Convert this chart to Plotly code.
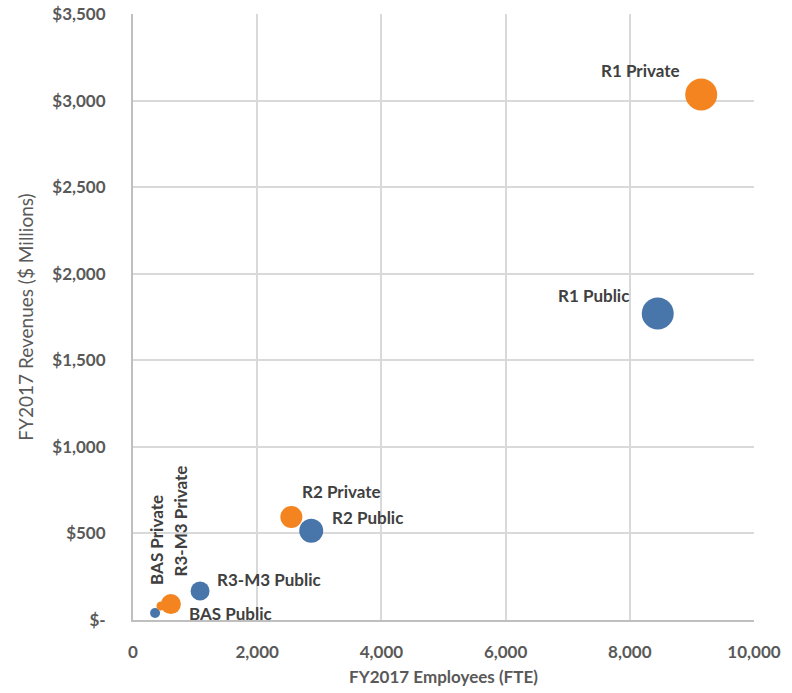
import plotly.graph_objects as go

# Segment data: employees (FTE), revenues ($M), bubble size
labels = ["R1 Private", "R1 Public", "R2 Private", "R2 Public",
          "R3-M3 Private", "R3-M3 Public", "BAS Private", "BAS Public"]
employees = [9150, 8450, 2550, 2870, 610, 1080, 450, 355]
revenues = [3035, 1770, 595, 515, 92, 167, 81, 40]
bubble_size = [32, 32, 22, 24, 20, 19, 9, 10]
sector = ["Private", "Public", "Private", "Public",
          "Private", "Public", "Private", "Public"]

x_ticks = [0, 2000, 4000, 6000, 8000, 10000]
x_tick_text = ["0", "2,000", "4,000", "6,000", "8,000", "10,000"]
y_ticks = [0, 500, 1000, 1500, 2000, 2500, 3000, 3500]
y_tick_text = ["$-", "$500", "$1,000", "$1,500", "$2,000", "$2,500", "$3,000", "$3,500"]

colors = {"Public": "#4876AA", "Private": "#F3841F"}
FONT = "Lato"

# label placement: (xanchor, yanchor, xshift, yshift, textangle)
label_pos = {
    "R1 Private": ("right", "middle", -19, 24, 0),
    "R1 Public": ("right", "middle", -27, 18, 0),
    "R2 Private": ("left", "middle", 9, 25, 0),
    "R2 Public": ("left", "middle", 19, 13, 0),
    "R3-M3 Public": ("left", "middle", 15, 12, 0),
    "BAS Public": ("left", "middle", 32, 0, 0),
    "BAS Private": ("center", "bottom", -4, 19, -90),
    "R3-M3 Private": ("center", "bottom", 10, 26, -90),
}

fig = go.Figure()

# draw larger bubbles first so the small ones stay visible
order = sorted(range(len(labels)), key=lambda i: -bubble_size[i])
fig.add_trace(go.Scatter(
    x=[employees[i] for i in order],
    y=[revenues[i] for i in order],
    mode="markers",
    marker=dict(size=[bubble_size[i] for i in order],
                color=[colors[sector[i]] for i in order],
                opacity=1, line=dict(width=0)),
    text=[labels[i] for i in order],
    hoverinfo="text",
    showlegend=False,
))

for i, lab in enumerate(labels):
    xa, ya, xs, ys, ang = label_pos[lab]
    fig.add_annotation(
        x=employees[i], y=revenues[i], text=lab, showarrow=False,
        xanchor=xa, yanchor=ya, xshift=xs, yshift=ys, textangle=ang,
        font=dict(family=FONT, size=17, color="#404040", weight="bold"),
    )

axis_font = dict(family=FONT, size=17, color="#595959", weight="bold")

fig.update_layout(
    width=792, height=693,
    margin=dict(l=133, r=38, t=14, b=73),
    paper_bgcolor="white", plot_bgcolor="white",
    xaxis=dict(
        range=[0, 10000], tickvals=x_ticks, ticktext=x_tick_text,
        showgrid=True, gridcolor="#D9D9D9", gridwidth=1.5,
        showline=True, linecolor="#BFBFBF", linewidth=2,
        zeroline=False, ticks="", tickfont=axis_font, ticklabelstandoff=16,
        automargin=False,
        title=dict(text="FY2017 Employees (FTE)", standoff=10,
                   font=dict(family=FONT, size=17, color="#595959", weight="bold")),
    ),
    yaxis=dict(
        range=[0, 3500], tickvals=y_ticks, ticktext=y_tick_text,
        showgrid=True, gridcolor="#D9D9D9", gridwidth=1.5,
        showline=True, linecolor="#BFBFBF", linewidth=2,
        zeroline=False, ticks="", tickfont=axis_font, ticklabelstandoff=22,
        automargin=False,
        title=dict(text="FY2017 Revenues ($ Millions)", standoff=14,
                   font=dict(family=FONT, size=19, color="#595959")),
    ),
)

fig.write_html("out.html")
